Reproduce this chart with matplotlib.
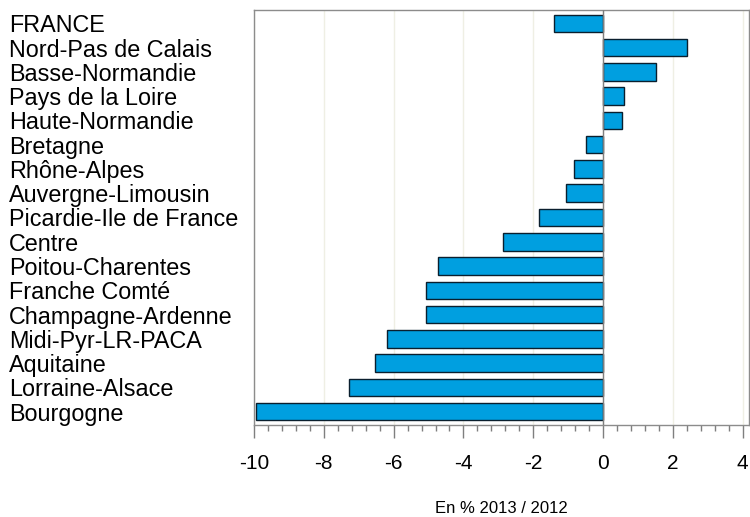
import matplotlib
matplotlib.use("Agg")
import matplotlib.pyplot as plt
from matplotlib.ticker import MultipleLocator

regions = ["FRANCE", "Nord-Pas de Calais", "Basse-Normandie", "Pays de la Loire",
           "Haute-Normandie", "Bretagne", "Rhône-Alpes", "Auvergne-Limousin",
           "Picardie-Ile de France", "Centre", "Poitou-Charentes", "Franche Comté",
           "Champagne-Ardenne", "Midi-Pyr-LR-PACA", "Aquitaine", "Lorraine-Alsace",
           "Bourgogne"]
values = [-1.41, 2.39, 1.53, 0.60, 0.54, -0.48, -0.82, -1.06, -1.85, -2.87,
          -4.74, -5.06, -5.06, -6.20, -6.54, -7.29, -9.95]
xticks = [-10, -8, -6, -4, -2, 0, 2, 4]

plt.rcParams['font.family'] = ['Liberation Sans', 'DejaVu Sans']
fig = plt.figure(figsize=(7.5, 5.17), dpi=100)
ax = fig.add_axes([254/750, 1-425/517, (749-254)/750, (425-10)/517])

n = len(regions)
ypos = list(range(n))
ax.barh(ypos, values, height=0.72, color="#009FE0", edgecolor="#0a1f2e", linewidth=1.0, zorder=3)
ax.set_ylim(n - 0.45, -0.55)
ax.set_xlim(-10, 4.18)

ax.axvline(0, color="#7f7f7f", linewidth=1.0, zorder=4)
for x in xticks:
    ax.axvline(x, color="#efefe4", linewidth=1.0, zorder=1)

ax.set_yticks(ypos)
ax.set_yticklabels(regions, fontsize=16.8)
ax.tick_params(axis='y', length=0, pad=(254-9)*0.72)
for lab in ax.get_yticklabels():
    lab.set_horizontalalignment('left')

ax.set_xticks(xticks)
ax.set_xticklabels([str(v) for v in xticks], fontsize=15)
ax.xaxis.set_minor_locator(MultipleLocator(0.4))
ax.tick_params(axis='x', which='major', length=9, width=1, color="#7f7f7f", pad=12)
ax.tick_params(axis='x', which='minor', length=4, width=1, color="#7f7f7f")
ax.set_xlabel("En % 2013 / 2012", fontsize=12, labelpad=20)

for s in ax.spines.values():
    s.set_color("#8c8c8c")
    s.set_linewidth(1.0)

fig.savefig("out.png", dpi=100)
